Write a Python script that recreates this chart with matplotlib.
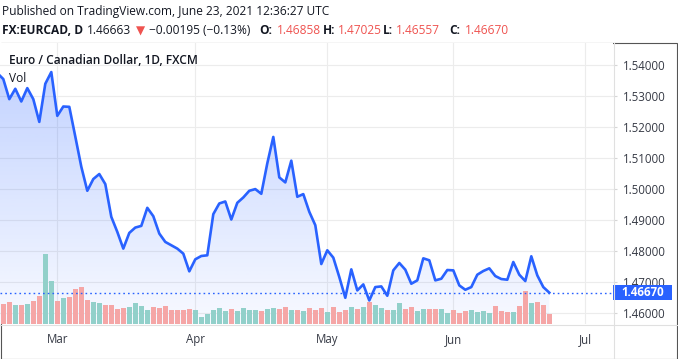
import numpy as np
import pandas as pd
import matplotlib
matplotlib.use("Agg")
import matplotlib.pyplot as plt
from matplotlib.patches import Rectangle, Polygon
from matplotlib.transforms import blended_transform_factory
from matplotlib.lines import Line2D

# ---------------- data ----------------
dates = pd.bdate_range("2021-02-15", "2021-06-23")

close = [
    1.53731, 1.53538, 1.52892, 1.53226, 1.52817, 1.53247, 1.52892, 1.52161, 1.53387, 1.53763,
    1.52355, 1.52656, 1.52645, 1.51688, 1.50720, 1.49946, 1.50323, 1.50484, 1.50161, 1.49108,
    1.48624, 1.48086, 1.48591, 1.48763, 1.48817, 1.49398, 1.49129, 1.48570, 1.48301, 1.48194,
    1.48086, 1.47925, 1.47355, 1.47742, 1.47849, 1.47871, 1.49194, 1.49538, 1.49602, 1.49022,
    1.49559, 1.49731, 1.49946, 1.50000, 1.49849, 1.50828, 1.51677, 1.50376, 1.50215, 1.50914,
    1.49753, 1.49839, 1.49269, 1.48839, 1.47591, 1.48032, 1.47796, 1.47172, 1.46505, 1.47419,
    1.46742, 1.46935, 1.46419, 1.46849, 1.46871, 1.46570, 1.47387, 1.47624, 1.47409, 1.46957,
    1.47065, 1.47774, 1.47710, 1.47065, 1.47118, 1.47398, 1.47387, 1.46903, 1.46763, 1.46849,
    1.47247, 1.47366, 1.47452, 1.47204, 1.47108, 1.47086, 1.47656, 1.47247, 1.47043, 1.47839,
    1.47226, 1.46849, 1.46670,
]

volume = [
    20.0, 20.0, 22.0, 19.0, 19.0, 20.0, 23.3, 28.0, 70.0, 43.0,
    23.0, 26.0, 27.0, 35.0, 37.0, 24.0, 22.0, 21.0, 19.0, 19.0,
    15.3, 16.3, 17.3, 21.0, 18.0, 14.0, 17.0, 16.0, 18.0, 14.0,
    14.0, 14.0, 15.0, 14.0, 6.7, 10.0, 14.0, 16.0, 13.0, 15.0,
    13.0, 16.0, 14.0, 14.0, 13.0, 15.0, 16.0, 15.0, 17.0, 14.0,
    14.0, 13.0, 16.0, 14.0, 16.0, 12.0, 17.0, 12.0, 14.0, 17.0,
    15.0, 17.0, 22.0, 19.0, 16.0, 14.0, 14.0, 21.0, 15.0, 17.0,
    13.0, 15.0, 15.0, 15.0, 15.0, 11.0, 14.0, 11.3, 13.0, 14.0,
    12.0, 13.0, 11.0, 18.0, 13.0, 12.0, 12.0, 18.0, 33.0, 21.0,
    22.0, 19.0, 10.0,
]

month_labels = ["Mar", "Apr", "May", "Jun", "Jul"]
price_ticks = [1.46, 1.47, 1.48, 1.49, 1.50, 1.51, 1.52, 1.53, 1.54]
last_price_label = "1.46670"

header1 = "Published on TradingView.com, June 23, 2021 12:36:27 UTC"
title = "Euro / Canadian Dollar, 1D, FXCM"

# ---------------- layout ----------------
W, H = 678, 359
fig = plt.figure(figsize=(W / 100, H / 100), dpi=100)
fig.patch.set_facecolor("white")

L_px, R_px, T_px, B_px = 0, 613, 43, 324
ax = fig.add_axes([L_px / W, 1 - B_px / H, (R_px - L_px) / W, (B_px - T_px) / H])
ax.set_zorder(1)
ax2 = ax.twinx()
ax2.set_zorder(2)
ax2.patch.set_visible(False)

x = np.arange(len(close))
cl = np.array(close)
vol = np.array(volume)

# positions of month starts (including beyond the data)
all_days = pd.bdate_range("2021-02-15", "2021-07-31")
tick_pos = []
for m in [3, 4, 5, 6, 7]:
    tick_pos.append(int(np.where(all_days.month == m)[0][0]))

x0 = tick_pos[0] - 57.3 / 6.0
x1 = tick_pos[0] + (613 - 57.3) / 6.0
y_lo, y_hi = 1.45662, 1.54698
ax.set_xlim(x0, x1)
ax.set_ylim(y_lo, y_hi)

# grid
gcol = "#ececec"
for p in price_ticks:
    ax.axhline(p, color=gcol, lw=0.8, zorder=0)
for t in tick_pos:
    ax.axvline(t, color=gcol, lw=0.8, zorder=0)

# gradient fill
blue = "#2962FF"
top = cl.max()
n = 256
grad = np.zeros((n, 1, 4))
grad[:, 0, 0] = 41 / 255
grad[:, 0, 1] = 98 / 255
grad[:, 0, 2] = 1.0
grad[:, 0, 3] = np.linspace(0.28, 0.035, n)
im = ax.imshow(grad, extent=[x0, x1, y_lo, top], aspect="auto", origin="upper", zorder=1,
               interpolation="bilinear")
poly_pts = np.vstack([np.column_stack([x, cl]), [[x[-1], y_lo], [x[0], y_lo]]])
poly = Polygon(poly_pts, closed=True, transform=ax.transData, facecolor="none", edgecolor="none")
ax.add_patch(poly)
im.set_clip_path(poly)

ax.plot(x, cl, color=blue, lw=1.9, zorder=3, solid_joinstyle="round")

# volume
up = np.r_[True, np.diff(cl) >= 0]
vcols = np.where(up, "#92d0ca", "#f5a6a6")
ax2.bar(x, vol, width=0.82, color=vcols, zorder=2, linewidth=0)
ax2.set_ylim(0, vol.max() * 4.0)
ax2.set_yticks([])
for s in ax2.spines.values():
    s.set_visible(False)

# last price dotted line
tr = blended_transform_factory(ax2.transAxes, ax.transData)
ax2.plot([0, 1], [cl[-1], cl[-1]], transform=tr, color=blue, lw=1.0,
         linestyle=(0, (1.2, 2.2)), zorder=5)

# axes styling
for s in ax.spines.values():
    s.set_visible(False)
ax.yaxis.tick_right()
ax.set_yticks(price_ticks)
ax.set_yticklabels([f"{p:.5f}" for p in price_ticks])
ax.tick_params(axis="y", length=3.0, width=0.8, color="#d6d6d6", pad=4.5,
               labelsize=8.3, labelcolor="#363a45")
ax.set_xticks(tick_pos)
ax.set_xticklabels(month_labels)
ax.tick_params(axis="x", length=0, pad=6.5, labelsize=8.3, labelcolor="#363a45")
for lab in ax.get_yticklabels() + ax.get_xticklabels():
    lab.set_fontfamily(["Open Sans", "DejaVu Sans"])

# last price label box
box_tr = blended_transform_factory(ax.transAxes, ax.transData)
bh = 14.5 / 3110
ax.add_patch(Rectangle((1.0, cl[-1] - bh / 2), (672 - 613) / 613, bh, transform=box_tr,
                       facecolor=blue, edgecolor="none", clip_on=False, zorder=10))
ax.text(1.0 + (643 - 613) / 613, cl[-1], last_price_label, transform=box_tr, ha="center",
        va="center", color="white", fontsize=8.3, fontweight="bold",
        family=["Open Sans", "DejaVu Sans"], zorder=11, clip_on=False)

# separator lines and frame (figure pixels)
def fx(px):
    return px / W

def fy(py):
    return 1 - py / H

fig.add_artist(Line2D([fx(613.5), fx(613.5)], [fy(43), fy(359)], color="#e0e0e0", lw=0.8))
fig.add_artist(Line2D([fx(0), fx(678)], [fy(324.5), fy(324.5)], color="#e0e0e0", lw=0.8))
fig.add_artist(Rectangle((fx(0.5), fy(358.5)), fx(677) - fx(0.5), fy(43) - fy(358.5),
                         facecolor="none", edgecolor="#555555", lw=0.8))

# header texts
fam = ["Open Sans", "DejaVu Sans"]
dark = "#131722"
red = "#ef5350"
fig.text(fx(2), fy(12), header1, fontsize=8.6, color=dark, va="center", ha="left", family=fam)
parts = [
    (2, "FX:EURCAD, D", dark, "bold"),
    (87, "1.46663", dark, "normal"),
    (136, "\u25BC", red, "normal"),
    (149, "\u22120.00195 (\u22120.13%)", dark, "normal"),
    (259, "O:", dark, "bold"),
    (277, "1.46858", red, "normal"),
    (323, "H:", dark, "bold"),
    (338, "1.47025", red, "normal"),
    (383, "L:", dark, "bold"),
    (396, "1.46557", red, "normal"),
    (449, "C:", dark, "bold"),
    (465, "1.46670", red, "normal"),
]
for px, s, c, w in parts:
    fig.text(fx(px), fy(31), s, fontsize=8.6, color=c, va="center", ha="left",
             fontweight=w, family=fam)

fig.text(fx(9), fy(60), title, fontsize=8.6, color=dark, va="center", ha="left",
         fontweight="semibold", family=fam)
fig.text(fx(9), fy(78), "Vol", fontsize=8.6, color=dark, va="center", ha="left", family=fam)

fig.savefig("out.png", dpi=100, facecolor="white")
